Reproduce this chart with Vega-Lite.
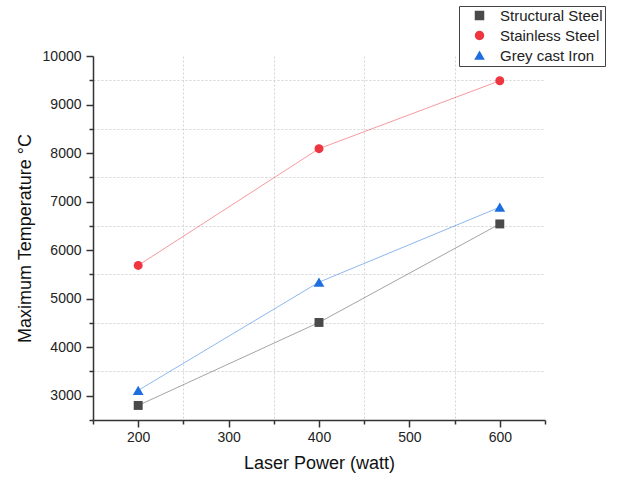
{
  "$schema": "https://vega.github.io/schema/vega-lite/v6.json",
  "autosize": {"type": "none"},
  "padding": {"left": 93, "top": 56, "right": 75, "bottom": 59},
  "width": 452,
  "height": 364,
  "background": "white",
  "config": {
    "view": {"stroke": null},
    "font": "Liberation Sans",
    "axis": {
      "domainColor": "#333333",
      "domainWidth": 1.5,
      "tickColor": "#333333",
      "tickWidth": 1.5,
      "labelFont": "Liberation Sans",
      "labelFontSize": 14,
      "labelColor": "#222222",
      "titleFont": "Liberation Sans",
      "titleFontSize": 18,
      "titleFontWeight": "normal",
      "titleColor": "#111111",
      "gridColor": "#d4d4d4",
      "gridDash": [2, 2],
      "gridWidth": 1
    }
  },
  "data": {
    "values": [
      {"power": 200, "temp": 2800, "series": "Structural Steel"},
      {"power": 400, "temp": 4510, "series": "Structural Steel"},
      {"power": 600, "temp": 6540, "series": "Structural Steel"},
      {"power": 200, "temp": 5685, "series": "Stainless Steel"},
      {"power": 400, "temp": 8090, "series": "Stainless Steel"},
      {"power": 600, "temp": 9490, "series": "Stainless Steel"},
      {"power": 200, "temp": 3110, "series": "Grey cast Iron"},
      {"power": 400, "temp": 5340, "series": "Grey cast Iron"},
      {"power": 600, "temp": 6885, "series": "Grey cast Iron"}
    ]
  },
  "encoding": {
    "x": {
      "field": "power",
      "type": "quantitative",
      "scale": {"domain": [150, 650], "nice": false, "zero": false},
      "axis": {
        "title": "Laser Power (watt)",
        "values": [150, 200, 250, 300, 350, 400, 450, 500, 550, 600, 650],
        "labelExpr": "datum.value % 100 == 0 ? datum.label : ''",
        "format": "d",
        "tickSize": {"condition": {"test": "datum.value % 100 == 0", "value": 7}, "value": 4},
        "grid": true,
        "gridOpacity": {"condition": {"test": "datum.value % 100 == 50 && datum.value > 160 && datum.value < 640", "value": 1}, "value": 0},
        "labelPadding": 3,
        "titlePadding": 10,
        "labelFlush": false
      }
    },
    "y": {
      "field": "temp",
      "type": "quantitative",
      "scale": {"domain": [2500, 10000], "nice": false, "zero": false},
      "axis": {
        "title": "Maximum Temperature °C",
        "values": [2500, 3000, 3500, 4000, 4500, 5000, 5500, 6000, 6500, 7000, 7500, 8000, 8500, 9000, 9500, 10000],
        "labelExpr": "datum.value % 1000 == 0 ? datum.label : ''",
        "format": "d",
        "tickSize": {"condition": {"test": "datum.value % 1000 == 0", "value": 7}, "value": 4},
        "grid": true,
        "gridOpacity": {"condition": {"test": "datum.value % 1000 == 500 && datum.value > 2600", "value": 1}, "value": 0},
        "labelPadding": 5,
        "titlePadding": 8,
        "labelFlush": false
      }
    },
    "color": {
      "field": "series",
      "type": "nominal",
      "scale": {
        "domain": ["Structural Steel", "Stainless Steel", "Grey cast Iron"],
        "range": ["#4a4a4a", "#ee3640", "#1d6fe0"]
      },
      "legend": {
        "title": null,
        "orient": "none",
        "legendX": 366,
        "legendY": -50,
        "strokeColor": "#444444",
        "fillColor": "white",
        "padding": 2,
        "rowPadding": 4,
        "symbolSize": 64,
        "symbolOffset": 11,
        "labelOffset": 13,
        "labelFont": "Liberation Sans",
        "labelFontSize": 15,
        "labelColor": "#222222",
        "symbolOpacity": 1
      }
    }
  },
  "layer": [
    {
      "mark": {"type": "line", "strokeWidth": 1, "opacity": 0.5}
    },
    {
      "mark": {"type": "point", "filled": true, "opacity": 1},
      "encoding": {
        "shape": {
          "field": "series",
          "type": "nominal",
          "scale": {
            "domain": ["Structural Steel", "Stainless Steel", "Grey cast Iron"],
            "range": ["square", "circle", "triangle-up"]
          },
          "legend": null
        },
        "size": {"condition": {"test": "datum.series === 'Grey cast Iron'", "value": 115}, "value": 80}
      }
    }
  ]
}
